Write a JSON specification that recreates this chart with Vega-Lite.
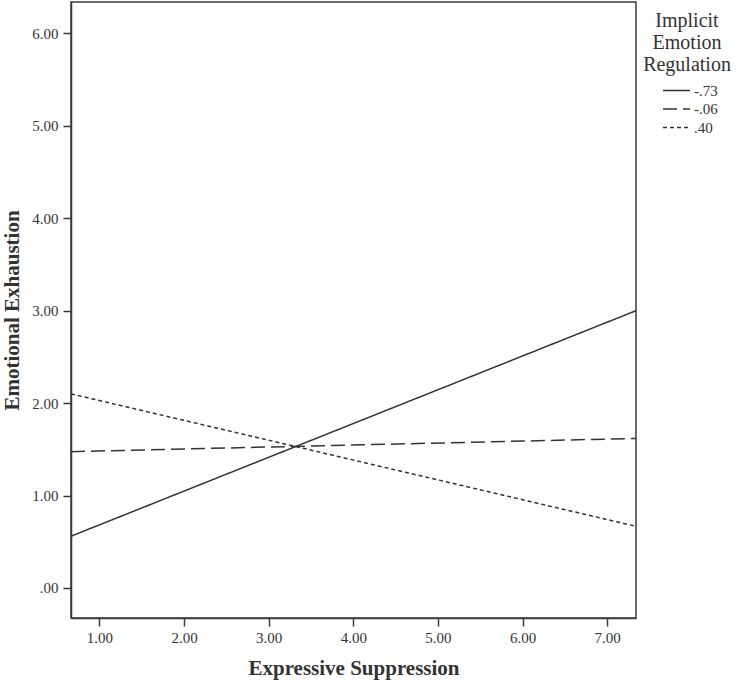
{
  "$schema": "https://vega.github.io/schema/vega-lite/v6.json",
  "width": 565,
  "height": 616,
  "autosize": {"type": "none"},
  "padding": {"left": 71, "top": 2, "right": 103, "bottom": 62},
  "background": "white",
  "config": {
    "font": "Liberation Serif",
    "view": {"stroke": "#3a3a3a", "strokeWidth": 1.5},
    "axis": {
      "grid": false,
      "domainColor": "#3a3a3a",
      "domainWidth": 1.5,
      "tickColor": "#3a3a3a",
      "tickWidth": 1.5,
      "tickSize": 8,
      "labelFont": "Liberation Serif",
      "labelFontSize": 15,
      "labelColor": "#333333",
      "titleFont": "Liberation Serif",
      "titleFontSize": 21,
      "titleFontWeight": "bold",
      "titleColor": "#333333"
    }
  },
  "data": {
    "values": [
      {"x": 0.665, "y": 0.56, "g": "-.73"},
      {"x": 7.34, "y": 3.0, "g": "-.73"},
      {"x": 0.665, "y": 1.475, "g": "-.06"},
      {"x": 7.34, "y": 1.618, "g": "-.06"},
      {"x": 0.665, "y": 2.1, "g": ".40"},
      {"x": 7.34, "y": 0.667, "g": ".40"}
    ]
  },
  "mark": {"type": "line", "color": "#333333", "strokeWidth": 1.5, "clip": true},
  "encoding": {
    "x": {
      "field": "x",
      "type": "quantitative",
      "scale": {"domain": [0.665, 7.34], "nice": false, "zero": false},
      "axis": {"values": [1, 2, 3, 4, 5, 6, 7], "format": ".2f", "title": "Expressive Suppression", "labelPadding": 4, "titlePadding": 12}
    },
    "y": {
      "field": "y",
      "type": "quantitative",
      "scale": {"domain": [-0.325, 6.34], "nice": false, "zero": false},
      "axis": {"values": [0, 1, 2, 3, 4, 5, 6], "labelExpr": "datum.value == 0 ? '.00' : format(datum.value, '.2f')", "title": "Emotional Exhaustion", "labelPadding": 5, "titlePadding": 9}
    },
    "strokeDash": {
      "field": "g",
      "type": "nominal",
      "scale": {"domain": ["-.73", "-.06", ".40"], "range": [[1, 0], [14, 6], [4, 3]]},
      "legend": {
        "title": ["Implicit", "Emotion", "Regulation"],
        "orient": "none",
        "legendX": 572,
        "legendY": 9,
        "titleFont": "Liberation Serif",
        "titleFontSize": 20,
        "titleFontWeight": "normal",
        "titleColor": "#333333",
        "titleAlign": "center",
        "titleAnchor": "middle",
        "titleLineHeight": 22,
        "titlePadding": 8,
        "symbolType": "stroke",
        "symbolSize": 729,
        "symbolStrokeWidth": 1.5,
        "symbolStrokeColor": "#333333",
        "symbolOffset": 6,
        "labelFont": "Liberation Serif",
        "labelFontSize": 15,
        "labelColor": "#333333",
        "labelOffset": 3,
        "clipHeight": 15,
        "rowPadding": 2.5
      }
    }
  }
}
